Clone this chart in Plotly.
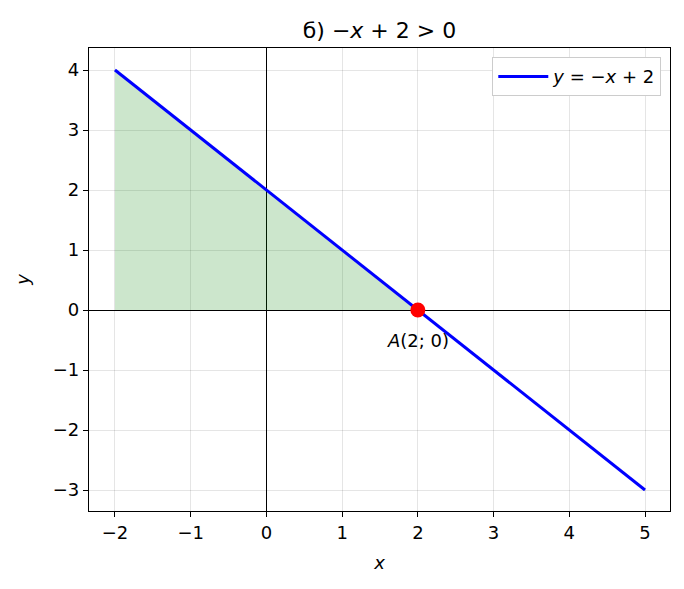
import numpy as np
import plotly.graph_objects as go

# Data
line_x = [-2, 5]
line_y = [4, -3]
fill_x = [-2, 2]
fill_y = [4, 0]
point_x = [2]
point_y = [0]
point_label = "<i>A</i>(2; 0)"
x_ticks = [-2, -1, 0, 1, 2, 3, 4, 5]
y_ticks = [-3, -2, -1, 0, 1, 2, 3, 4]
tick_text_x = ["\u22122", "\u22121", "0", "1", "2", "3", "4", "5"]
tick_text_y = ["\u22123", "\u22122", "\u22121", "0", "1", "2", "3", "4"]

FONT = "DejaVu Sans"
W, H = 676, 581  # page body has an 8px margin

fig = go.Figure()
fig.add_trace(go.Scatter(
    x=fill_x + [fill_x[0]], y=fill_y + [0], fill="toself",
    fillcolor="rgba(0,128,0,0.2)", line=dict(width=0), mode="lines",
    showlegend=False, hoverinfo="skip"))
fig.add_trace(go.Scatter(
    x=line_x, y=line_y, mode="lines", line=dict(color="blue", width=3),
    name="<i>y</i> = \u2212<i>x</i> + 2"))
fig.add_trace(go.Scatter(
    x=point_x, y=point_y, mode="markers",
    marker=dict(color="red", size=15), showlegend=False))

fig.add_annotation(x=point_x[0], y=point_y[0] - 0.5, text=point_label,
                   showarrow=False, font=dict(size=18, color="black", family=FONT),
                   xanchor="center", yanchor="middle")

axis_common = dict(
    showline=True, linecolor="black", linewidth=1.2, mirror=True,
    ticks="outside", ticklen=5, tickcolor="black", tickwidth=1.2,
    showgrid=True, gridcolor="rgba(0,0,0,0.1)", gridwidth=1,
    zeroline=True, zerolinecolor="black", zerolinewidth=1.2,
    tickfont=dict(size=18, family=FONT, color="black"),
    automargin=False,
)

fig.update_xaxes(range=[-2.343, 5.33], tickvals=x_ticks, ticktext=tick_text_x,
                 title=dict(text="<i>x</i>", font=dict(size=18, family=FONT), standoff=14),
                 **axis_common)
fig.update_yaxes(range=[-3.35, 4.367], tickvals=y_ticks, ticktext=tick_text_y,
                 title=dict(text="<i>y</i>", font=dict(size=18, family=FONT), standoff=18),
                 **axis_common)

fig.update_layout(
    width=W, height=H,
    margin=dict(l=81, r=14, t=40, b=78),
    paper_bgcolor="white", plot_bgcolor="white",
    font=dict(family=FONT, color="black"),
    title=dict(text="\u0431) \u2212<i>x</i> + 2 > 0", x=0.5, xref="paper",
               y=1 - 22 / H, yanchor="middle", font=dict(size=22, family=FONT)),
    legend=dict(x=0.985, y=0.98, xanchor="right", yanchor="top",
                bgcolor="white", bordercolor="#cccccc", borderwidth=1,
                itemwidth=50,
                font=dict(size=18, family=FONT)),
)

fig.write_html("out.html")
